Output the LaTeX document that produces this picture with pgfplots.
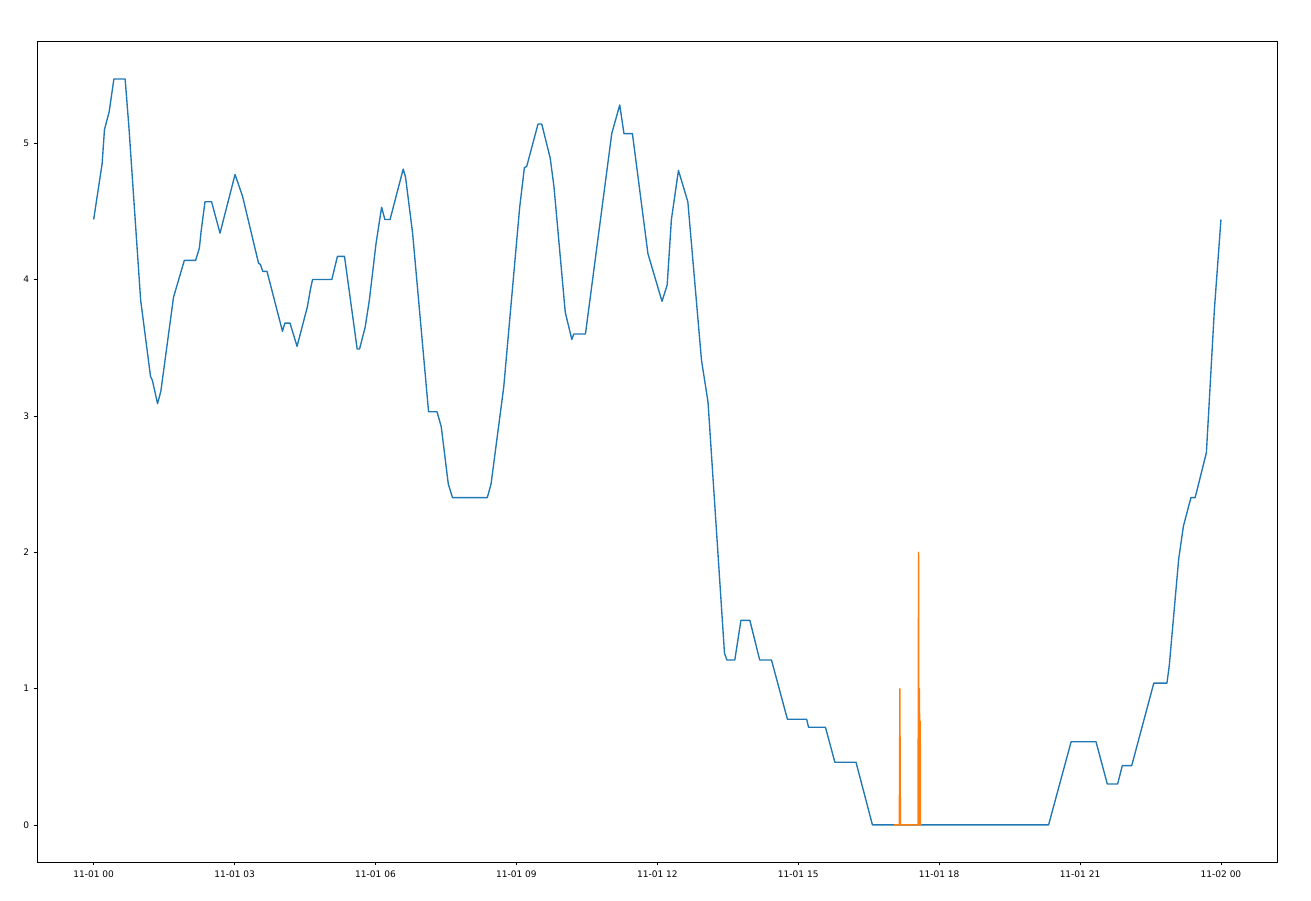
\documentclass[border=0pt]{standalone}
\usepackage{fontspec}
\setmainfont{DejaVu Sans}
\usepackage{pgfplots}
\pgfplotsset{compat=1.18}
\definecolor{mplblue}{HTML}{1F77B4}
\definecolor{mplorange}{HTML}{FF7F0E}
\begin{document}
\begin{tikzpicture}
\begin{axis}[
  scale only axis,
  width=892.8pt, height=591.1pt,
  xmin=-1.2, xmax=25.2, ymin=-0.274, ymax=5.747,
  xtick={0,3,6,9,12,15,18,21,24},
  xticklabels={11-01 00,11-01 03,11-01 06,11-01 09,11-01 12,11-01 15,11-01 18,11-01 21,11-02 00},
  ytick={0,1,2,3,4,5},
  xtick pos=lower, ytick pos=left,
  tick align=outside,
  major tick length=2.3pt,
  tick style={black, line width=0.52pt},
  axis line style={black, line width=0.52pt},
  tick label style={font=\fontsize{6.5}{7.8}\selectfont},
  /pgf/number format/assume math mode=true,
  every axis plot/.append style={line width=0.98pt, line join=round, mark=none},
]
\addplot[color=mplblue] coordinates {
(0,4.44) (0.18,4.85) (0.23,5.10) (0.33,5.23) (0.43,5.47) (0.67,5.47) (0.75,5.12) (0.86,4.56)
(1.0,3.85) (1.21,3.29) (1.25,3.26) (1.36,3.09) (1.43,3.18) (1.70,3.87) (1.93,4.14) (2.17,4.14)
(2.25,4.23) (2.29,4.36) (2.37,4.57) (2.51,4.57) (2.69,4.34) (3.01,4.77) (3.17,4.61) (3.51,4.12)
(3.55,4.11) (3.60,4.06) (3.69,4.06) (4.02,3.62) (4.07,3.68) (4.18,3.68) (4.33,3.51) (4.55,3.80)
(4.61,3.92) (4.66,4.00) (5.07,4.00) (5.19,4.17) (5.34,4.17) (5.61,3.49) (5.66,3.49) (5.78,3.65)
(5.87,3.85) (6.01,4.26) (6.13,4.53) (6.20,4.44) (6.31,4.44) (6.59,4.81) (6.64,4.75) (6.79,4.34)
(7.13,3.03) (7.31,3.03) (7.40,2.92) (7.55,2.50) (7.64,2.40) (8.38,2.40) (8.46,2.50) (8.73,3.21)
(9.07,4.53) (9.17,4.82) (9.22,4.83) (9.46,5.14) (9.54,5.14) (9.72,4.89) (9.80,4.68) (10.04,3.76)
(10.18,3.56) (10.22,3.60) (10.47,3.60) (11.03,5.07) (11.20,5.28) (11.29,5.07) (11.47,5.07) (11.80,4.19)
(12.10,3.84) (12.21,3.96) (12.30,4.44) (12.45,4.80) (12.65,4.57) (12.94,3.41) (13.08,3.10) (13.43,1.26)
(13.48,1.21) (13.65,1.21) (13.78,1.50) (13.97,1.50) (14.18,1.21) (14.43,1.21) (14.77,0.775) (15.18,0.775)
(15.22,0.716) (15.58,0.716) (15.78,0.46) (16.23,0.46) (16.58,0) (20.33,0) (20.81,0.61) (21.34,0.61)
(21.58,0.30) (21.80,0.30) (21.90,0.435) (22.10,0.435) (22.57,1.04) (22.85,1.04) (22.90,1.17) (23.10,1.95)
(23.20,2.19) (23.36,2.40) (23.45,2.40) (23.69,2.73) (23.86,3.78) (24.0,4.44)
};
\addplot[color=mplorange] coordinates {
(17.036,0) (17.152,0) (17.164,1) (17.176,0) (17.550,0) (17.562,2) (17.572,0) (17.578,1)
(17.585,0.76) (17.598,0.76) (17.604,0) (17.626,0)
};
\end{axis}
\path ([xshift=-26.86pt,yshift=-27.86pt]current axis.south west) rectangle ([xshift=24.26pt,yshift=29.74pt]current axis.north east);
\end{tikzpicture}
\end{document}
